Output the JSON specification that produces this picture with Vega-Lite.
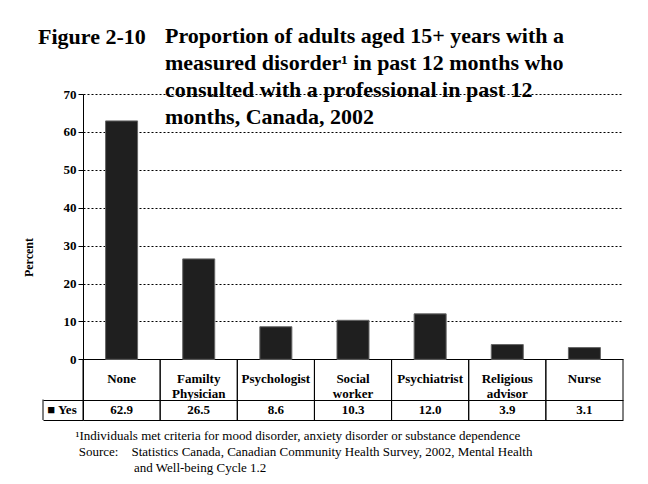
{
  "$schema": "https://vega.github.io/schema/vega-lite/v6.json",
  "autosize": {"type": "pad"},
  "padding": {"left": 22, "top": 25, "right": 25, "bottom": 10},
  "background": "white",
  "config": {"view": {"stroke": null}, "font": "Liberation Serif"},
  "title": {
    "text": "Figure 2-10",
    "anchor": "start",
    "frame": "bounds",
    "dx": 16,
    "offset": -24,
    "font": "Liberation Serif",
    "fontSize": 22,
    "fontWeight": "bold",
    "color": "black"
  },
  "data": {
    "values": [
      {"cat": "None", "label": "None", "value": 62.9},
      {"cat": "Family Physician", "label": "Familty\nPhysician", "value": 26.5},
      {"cat": "Psychologist", "label": "Psychologist", "value": 8.6},
      {"cat": "Social worker", "label": "Social\nworker", "value": 10.3},
      {"cat": "Psychiatrist", "label": "Psychiatrist", "value": 12.0},
      {"cat": "Religious advisor", "label": "Religious\nadvisor", "value": 3.9},
      {"cat": "Nurse", "label": "Nurse", "value": 3.1}
    ]
  },
  "vconcat": [
    {
      "width": 540,
      "height": 326,
      "title": {
        "text": [
          "Proportion of adults aged 15+ years with a",
          "measured disorder\u00b9 in past 12 months who",
          "consulted with a professional in past 12",
          "months, Canada, 2002"
        ],
        "anchor": "start",
        "frame": "group",
        "dx": 82,
        "offset": -41,
        "font": "Liberation Serif",
        "fontSize": 22,
        "fontWeight": "bold",
        "lineHeight": 27,
        "color": "black"
      },
      "layer": [
        {
          "mark": {"type": "bar", "width": {"band": 0.415}, "color": "#1f1f1f", "stroke": "#666666", "strokeWidth": 1},
          "encoding": {
            "x": {
              "field": "cat", "type": "nominal", "sort": null,
              "scale": {"paddingInner": 0, "paddingOuter": 0},
              "axis": {
                "title": [
                  "\u00b9Individuals met criteria for mood disorder, anxiety disorder or substance dependence",
                  "\u200b\u00a0Source:\u00a0\u00a0\u00a0\u00a0Statistics Canada, Canadian Community Health Survey, 2002, Mental Health",
                  "\u200b\u00a0\u00a0\u00a0\u00a0\u00a0\u00a0\u00a0\u00a0\u00a0\u00a0\u00a0\u00a0\u00a0\u00a0\u00a0\u00a0\u00a0\u00a0and Well-being Cycle 1.2"
                ],
                "labels": false, "ticks": false, "domain": false,
                "titleAnchor": "start", "titleAlign": "left", "titleBaseline": "top",
                "titleX": -8, "titleY": 9,
                "titleFont": "Liberation Serif", "titleFontSize": 13, "titleFontWeight": "normal",
                "titleLineHeight": 16, "titleColor": "black"
              }
            },
            "y": {
              "field": "value", "type": "quantitative",
              "scale": {"domain": [-16, 70], "nice": false},
              "axis": {
                "title": "Percent",
                "values": [-16, -10.6, 0, 10, 20, 30, 40, 50, 60, 70],
                "tickCount": 30,
                "labelOverlap": false,
                "labelExpr": "datum.value < 0 ? '' : datum.label",
                "tickSize": {"condition": {"test": "datum.value < 0", "value": 40}, "value": 5},
                "tickColor": "black",
                "domainColor": "black",
                "grid": true,
                "gridColor": "black",
                "gridOpacity": 1,
                "gridDash": {"condition": {"test": "datum.value <= 0", "value": []}, "value": [2, 2]},
                "labelFont": "Liberation Serif", "labelFontSize": 13, "labelFontWeight": "bold",
                "labelColor": "black", "labelPadding": 2,
                "titleFont": "Liberation Serif", "titleFontSize": 12, "titleFontWeight": "bold",
                "titleColor": "black", "titlePadding": 6
              }
            },
            "y2": {"datum": 0}
          }
        },
        {
          "mark": {"type": "rule", "color": "black", "strokeWidth": 1},
          "encoding": {
            "x": {"field": "cat", "type": "nominal", "sort": null, "bandPosition": 0},
            "y": {"datum": 0},
            "y2": {"datum": -16}
          }
        },
        {
          "mark": {"type": "rule", "color": "black", "strokeWidth": 1},
          "encoding": {
            "x": {"field": "cat", "type": "nominal", "sort": null, "bandPosition": 1},
            "y": {"datum": 0},
            "y2": {"datum": -16}
          }
        },
        {
          "transform": [{"filter": "datum.cat == 'None'"}],
          "mark": {"type": "rule", "color": "black", "strokeWidth": 1, "xOffset": -40},
          "encoding": {
            "x": {"field": "cat", "type": "nominal", "sort": null, "bandPosition": 0},
            "y": {"datum": -10.6},
            "y2": {"datum": -16}
          }
        },
        {
          "transform": [{"filter": "datum.cat == 'None'"}],
          "mark": {"type": "text", "font": "Liberation Serif", "fontWeight": "bold", "fontSize": 13, "baseline": "middle", "align": "center", "dx": -21, "color": "black"},
          "encoding": {
            "x": {"field": "cat", "type": "nominal", "sort": null, "bandPosition": 0},
            "y": {"datum": -13.3},
            "text": {"value": "\u25a0 Yes"}
          }
        },
        {
          "mark": {"type": "text", "font": "Liberation Serif", "fontWeight": "bold", "fontSize": 13, "baseline": "middle", "align": "center", "lineBreak": "\n", "lineHeight": 15, "color": "black"},
          "encoding": {
            "x": {"field": "cat", "type": "nominal", "sort": null},
            "y": {"datum": -5.3},
            "text": {"field": "label"}
          }
        },
        {
          "mark": {"type": "text", "font": "Liberation Serif", "fontWeight": "bold", "fontSize": 13, "baseline": "middle", "align": "center", "color": "black"},
          "encoding": {
            "x": {"field": "cat", "type": "nominal", "sort": null},
            "y": {"datum": -13.3},
            "text": {"field": "value", "format": ".1f"}
          }
        }
      ]
    }
  ]
}
